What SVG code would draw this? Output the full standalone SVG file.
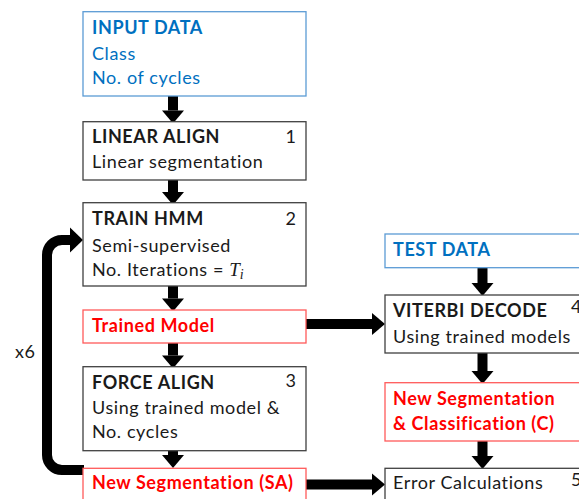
<svg xmlns="http://www.w3.org/2000/svg" width="579" height="499" viewBox="0 0 579 499">
  <defs>
    <style>
      text { font-family: Lato, "Open Sans", "Liberation Sans", sans-serif; font-size: 18px; letter-spacing: 0.6px; fill: #1a1a1a; }
      .b { font-weight: bold; }
      .blue { fill: #0070c0; }
      .red { fill: #ff0000; font-weight: bold; }
      .num { text-anchor: end; letter-spacing: 0; }
      .box { fill: #ffffff; stroke: #404040; stroke-width: 1.3; }
      .box-in { fill: #ffffff; stroke: #5b9bd5; stroke-width: 1.3; }
      .box-out { fill: #ffffff; stroke: #ff5a5a; stroke-width: 1.3; }
      .shaft { stroke: #000000; stroke-width: 10; fill: none; }
      .math { font-family: "Liberation Serif", "DejaVu Serif", serif; font-style: italic; letter-spacing: 0; }
    </style>
    <marker id="head" markerUnits="userSpaceOnUse" markerWidth="13" markerHeight="22" refX="0" refY="11" orient="auto" overflow="visible">
      <path d="M0,0 L13,11 L0,22 Z" fill="#000000"/>
    </marker>
    <marker id="head-lg" markerUnits="userSpaceOnUse" markerWidth="13" markerHeight="25" refX="0" refY="12.5" orient="auto" overflow="visible">
      <path d="M0,0 L13,12.5 L0,25 Z" fill="#000000"/>
    </marker>
  </defs>

  <!-- connectors -->
  <g id="connectors">
    <!-- training column -->
    <line class="shaft" x1="173" y1="96" x2="173" y2="110.5" marker-end="url(#head)"/>
    <line class="shaft" x1="173" y1="180" x2="173" y2="192" marker-end="url(#head)"/>
    <line class="shaft" x1="173" y1="286" x2="173" y2="298.5" marker-end="url(#head)"/>
    <line class="shaft" x1="173" y1="343" x2="173" y2="355.5" marker-end="url(#head)"/>
    <line class="shaft" x1="173" y1="450.7" x2="173" y2="455" marker-end="url(#head)"/>
    <!-- testing column -->
    <line class="shaft" x1="482.5" y1="267.7" x2="482.5" y2="283" marker-end="url(#head)"/>
    <line class="shaft" x1="482.5" y1="353" x2="482.5" y2="371" marker-end="url(#head)"/>
    <line class="shaft" x1="482.5" y1="441" x2="482.5" y2="456" marker-end="url(#head)"/>
    <!-- cross links -->
    <line class="shaft" x1="306" y1="324" x2="372" y2="324" marker-end="url(#head)"/>
    <line class="shaft" x1="306" y1="484.5" x2="372" y2="484.5" marker-end="url(#head)"/>
    <!-- re-training loop -->
    <path class="shaft" d="M84,470 H62 A15,15 0 0 1 47,455 V255 A15,15 0 0 1 62,240 H70" marker-end="url(#head-lg)"/>
    <text x="15" y="358">x6</text>
  </g>

  <g id="input-data">
    <rect class="box-in" x="83" y="11.7" width="223" height="84.3"/>
    <text class="b blue" x="92" y="34">INPUT DATA</text>
    <text class="blue" x="92" y="60">Class</text>
    <text class="blue" x="92" y="84">No. of cycles</text>
  </g>

  <g id="linear-align">
    <rect class="box" x="83" y="121.7" width="223" height="58.3"/>
    <text class="b" x="92" y="143">LINEAR ALIGN</text>
    <text class="num" x="296" y="143">1</text>
    <text x="92" y="168">Linear segmentation</text>
  </g>

  <g id="train-hmm">
    <rect class="box" x="83" y="202.7" width="223" height="83.3"/>
    <text class="b" x="92" y="225">TRAIN HMM</text>
    <text class="num" x="296" y="225">2</text>
    <text x="92" y="251.5">Semi-supervised</text>
    <text x="92" y="276">No. Iterations = <tspan class="math" font-size="19">T</tspan><tspan class="math" font-size="14" dy="3">i</tspan></text>
  </g>

  <g id="trained-model">
    <rect class="box-out" x="83" y="310" width="223" height="33"/>
    <text class="red" x="92" y="332">Trained Model</text>
  </g>

  <g id="force-align">
    <rect class="box" x="83" y="366.7" width="223" height="84"/>
    <text class="b" x="92" y="389">FORCE ALIGN</text>
    <text class="num" x="296" y="387">3</text>
    <text x="92" y="414">Using trained model &amp;</text>
    <text x="92" y="438">No. cycles</text>
  </g>

  <g id="new-segmentation-sa">
    <rect class="box-out" x="83" y="468.3" width="223" height="40"/>
    <text class="red" x="92" y="489">New Segmentation (SA)</text>
  </g>

  <g id="test-data">
    <rect class="box-in" x="385" y="234" width="223" height="33.7"/>
    <text class="b blue" x="393" y="256">TEST DATA</text>
  </g>

  <g id="viterbi-decode">
    <rect class="box" x="385" y="295" width="223" height="58"/>
    <text class="b" x="393" y="316.7">VITERBI DECODE</text>
    <text x="571" y="313">4</text>
    <text x="393" y="343">Using trained models</text>
  </g>

  <g id="new-segmentation-c">
    <rect class="box-out" x="385" y="382.7" width="223" height="58.3"/>
    <text class="red" x="393" y="405">New Segmentation</text>
    <text class="red" x="393" y="430">&amp; Classification (C)</text>
  </g>

  <g id="error-calculations">
    <rect class="box" x="385" y="468.3" width="223" height="40"/>
    <text x="393" y="489">Error Calculations</text>
    <text x="571" y="486">5</text>
  </g>
</svg>
